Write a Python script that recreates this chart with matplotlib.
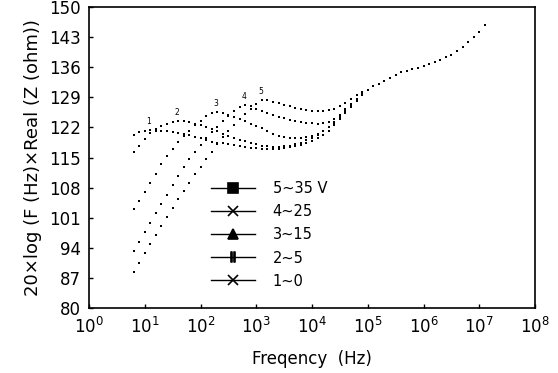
import matplotlib
matplotlib.use('Agg')
import matplotlib.pyplot as plt
from matplotlib.lines import Line2D
import numpy as np

# log10 of measuring frequency (Hz), low-frequency part where the curves differ
LOGF_LOW = [0.8, 0.9, 1.0, 1.1, 1.2, 1.3, 1.4, 1.5, 1.6, 1.7,
            1.8, 1.9, 2.0, 2.1, 2.2, 2.3, 2.4, 2.5, 2.6, 2.7,
            2.8, 2.9, 3.0, 3.1, 3.2, 3.3, 3.4, 3.5, 3.6, 3.7,
            3.8, 3.9, 4.0, 4.1, 4.2, 4.3, 4.4, 4.5, 4.6, 4.7,
            4.8, 4.9]

# high-frequency part, all curves coincide
LOGF_HIGH = [5.0, 5.1, 5.2, 5.3, 5.4, 5.5, 5.6, 5.7, 5.8, 5.9,
             6.0, 6.1, 6.2, 6.3, 6.4, 6.5, 6.6, 6.7, 6.8, 6.9,
             7.0, 7.1]
COMMON_HIGH = [130.8, 131.6, 132.2, 132.8, 133.5, 134.2, 134.8, 135.2, 135.6, 135.9,
               136.3, 136.7, 137.2, 137.8, 138.4, 138.9, 139.7, 140.7, 141.9, 143.0,
               144.2, 145.9]

# 20 log(F x Re Z) for each bias curve (label number, bias)
CURVE_1 = [120.2, 120.9, 121.3, 121.4, 121.3, 121.2, 121.1, 121.0, 120.8, 120.5,
           120.2, 119.9, 119.5, 119.1, 118.7, 118.5, 118.4, 118.2, 117.9, 117.6,
           117.4, 117.3, 117.2, 117.1, 117.1, 117.1, 117.1, 117.2, 117.4, 117.6,
           117.9, 118.3, 118.8, 119.5, 120.3, 121.3, 122.5, 124.0, 125.4, 126.8,
           128.2, 129.5]
CURVE_2 = [116.2, 117.8, 119.4, 120.7, 121.6, 122.3, 122.9, 123.3, 123.5, 123.4,
           123.2, 122.9, 122.5, 122.1, 121.6, 121.1, 120.6, 120.1, 119.6, 119.2,
           118.8, 118.4, 118.1, 117.8, 117.6, 117.5, 117.5, 117.6, 117.8, 118.1,
           118.5, 119.0, 119.6, 120.3, 121.1, 122.0, 123.1, 124.4, 125.7, 127.0,
           128.3, 129.6]
CURVE_3 = [103.0, 105.0, 107.0, 109.2, 111.3, 113.4, 115.3, 117.0, 118.6, 120.0,
           121.3, 122.5, 123.6, 124.6, 125.3, 125.5, 125.3, 124.9, 124.4, 123.9,
           123.4, 122.8, 122.3, 121.8, 121.2, 120.6, 120.1, 119.8, 119.6, 119.5,
           119.5, 119.7, 120.0, 120.5, 121.2, 122.1, 123.2, 124.6, 125.9, 127.2,
           128.5, 129.7]
CURVE_4 = [93.2, 95.4, 97.6, 99.8, 102.0, 104.2, 106.4, 108.6, 110.7, 112.7,
           114.6, 116.4, 118.0, 119.5, 120.9, 122.2, 123.4, 124.6, 125.8, 126.8,
           127.2, 126.9, 126.3, 125.8, 125.3, 124.9, 124.5, 124.1, 123.8, 123.5,
           123.3, 123.1, 123.0, 122.9, 123.0, 123.3, 124.0, 125.0, 126.2, 127.5,
           128.7, 129.9]
CURVE_5 = [88.5, 90.6, 92.7, 94.8, 96.9, 99.0, 101.1, 103.2, 105.3, 107.3,
           109.2, 111.1, 112.9, 114.7, 116.4, 118.1, 119.7, 121.2, 122.6, 123.9,
           125.1, 126.3, 127.5, 128.3, 128.3, 128.0, 127.6, 127.2, 126.9, 126.6,
           126.3, 126.1, 125.9, 125.8, 125.8, 126.0, 126.4, 127.0, 127.8, 128.6,
           129.5, 130.3]

CURVES = [CURVE_5, CURVE_4, CURVE_3, CURVE_2, CURVE_1]
CURVE_NUMS = ['5', '4', '3', '2', '1']
LEGEND_LABELS = ['5~35 V', '4~25', '3~15', '2~5', '1~0']
LEGEND_MARKERS = ['s', 'x', '^', r'$||$', 'x']

Y_TICKS = [80, 87, 94, 101, 108, 115, 122, 129, 136, 143, 150]
X_TICKS = [1e0, 1e1, 1e2, 1e3, 1e4, 1e5, 1e6, 1e7, 1e8]

plt.rcParams['font.family'] = ['DejaVu Sans']

fig = plt.figure(figsize=(5.58, 3.73), dpi=100)
ax = fig.add_axes([0.1595, 0.174, 0.7993, 0.807])

freq_low = 10 ** np.array(LOGF_LOW)
freq_high = 10 ** np.array(LOGF_HIGH)

for vals, num in zip(CURVES, CURVE_NUMS):
    f = np.concatenate([freq_low, freq_high])
    v = np.concatenate([vals, COMMON_HIGH])
    ax.plot(f, v, linestyle='none', marker='s', markersize=1.8,
            color='black', markeredgewidth=0)
    # curve number sits above its low-frequency peak (search below ~5 kHz)
    i = int(np.argmax(vals[:30]))
    ax.annotate(num, (freq_low[i], vals[i]), xytext=(-1, 3),
                textcoords='offset points', fontsize=5.5, ha='center', va='bottom')

ax.set_xscale('log')
ax.set_xlim(1, 1e8)
ax.set_ylim(80, 150)
ax.set_xticks(X_TICKS)
ax.set_yticks(Y_TICKS)
ax.minorticks_off()
ax.tick_params(direction='in', length=3, width=1, labelsize=12, pad=6)
for s in ax.spines.values():
    s.set_linewidth(1.2)

ax.set_xlabel('Freqency  (Hz)', fontsize=12, labelpad=10)
ax.set_ylabel('20×log (F (Hz)×Real (Z (ohm))', fontsize=13, labelpad=5)

handles = [Line2D([], [], color='black', lw=1, marker=m, markersize=7,
                  markeredgewidth=1.2)
           for m in LEGEND_MARKERS]
ax.legend(handles, LEGEND_LABELS, loc='upper left',
          bbox_to_anchor=(0.258, 0.445), frameon=False, fontsize=10.5,
          handlelength=3.0, handletextpad=1.2, labelspacing=0.55, borderpad=0)

fig.savefig('out.png', dpi=100)
